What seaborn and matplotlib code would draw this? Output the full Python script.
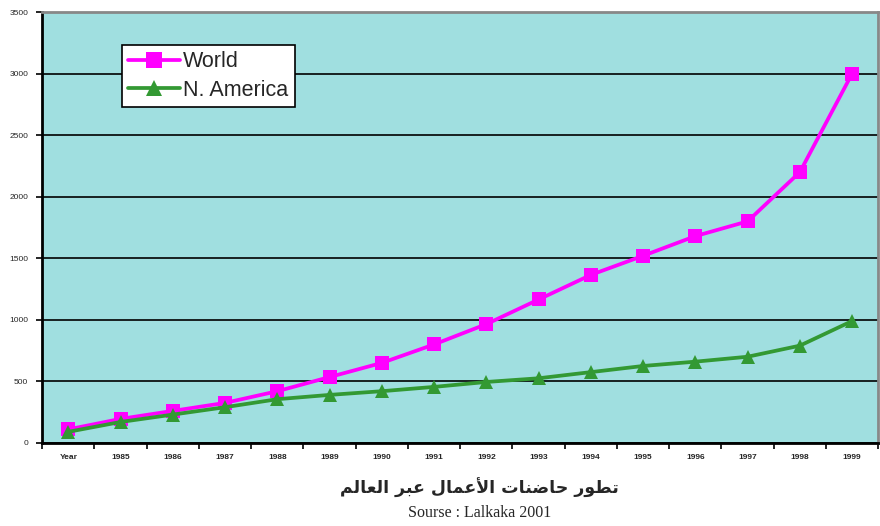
import numpy as np
import pandas as pd
import matplotlib.pyplot as plt
import seaborn as sns

years = ['Year', '1985', '1986', '1987', '1988', '1989', '1990', '1991',
         '1992', '1993', '1994', '1995', '1996', '1997', '1998', '1999']
world = [110, 195, 260, 325, 420, 535, 650, 800, 965, 1165, 1365, 1520, 1680, 1800, 2200, 3000]
n_america = [90, 170, 230, 290, 355, 390, 420, 455, 495, 525, 575, 625, 660, 700, 790, 990]
y_ticks = [0, 500, 1000, 1500, 2000, 2500, 3000, 3500]

# Arabic title in presentation forms (visual order), matplotlib does no shaping
title_words = ['\uFE97\uFEC4\uFEEE\uFEAD',
               '\uFEA3\uFE8E\uFEBF\uFEE8\uFE8E\uFE95',
               '\uFE8D\uFEF7\uFECB\uFEE4\uFE8E\uFEDD',
               '\uFECB\uFE92\uFEAE',
               '\uFE8D\uFEDF\uFECC\uFE8E\uFEDF\uFEE2']
title_ar = ' '.join(title_words)[::-1]
source = 'Sourse : Lalkaka 2001'

df = pd.DataFrame({'pos': np.arange(len(years)), 'World': world, 'N. America': n_america})
df_long = df.melt(id_vars='pos', var_name='Series', value_name='Count')

sns.set_style('white')
plt.rcParams['font.family'] = ['Liberation Sans', 'DejaVu Sans']

fig = plt.figure(figsize=(8.8, 5.26), dpi=100)
ax = fig.add_axes([0.048, 0.158, 0.95, 0.819])
ax.set_facecolor('#a0dfe0')

sns.lineplot(data=df_long, x='pos', y='Count', hue='Series', style='Series',
             palette={'World': '#ff00ff', 'N. America': '#339933'},
             markers={'World': 's', 'N. America': '^'}, dashes=False,
             linewidth=2.7, markersize=10, markeredgewidth=0, ax=ax)

ax.set_xlim(-0.5, len(years) - 0.5)
ax.set_ylim(0, 3500)
ax.set_yticks(y_ticks)
ax.set_yticklabels([str(t) for t in y_ticks], fontsize=6)
ax.yaxis.grid(True, color='black', linewidth=1.2)
ax.set_axisbelow(True)

# boundary ticks, labels in the middle of each category
ax.set_xticks(np.arange(len(years) + 1) - 0.5)
ax.set_xticklabels([])
ax.set_xticks(np.arange(len(years)), minor=True)
ax.set_xticklabels(years, minor=True, fontsize=6, fontweight='bold')
ax.tick_params(axis='x', which='major', direction='out', length=4, width=1.2, color='black', bottom=True)
ax.tick_params(axis='x', which='minor', length=0, pad=8)
ax.tick_params(axis='y', direction='out', length=4, width=1.2, color='black', left=True, pad=6)
ax.set_xlabel('')
ax.set_ylabel('')

for side in ['left', 'bottom']:
    ax.spines[side].set_color('black')
    ax.spines[side].set_linewidth(2)
for side in ['top', 'right']:
    ax.spines[side].set_color('#888888')
    ax.spines[side].set_linewidth(2)

handles, labels = ax.get_legend_handles_labels()
for h in handles:
    h.set_markersize(11)
leg = ax.legend(handles, labels, loc='upper left', bbox_to_anchor=(122 / 880, 1 - 45 / 526),
                bbox_transform=fig.transFigure, prop={'family': 'Liberation Sans', 'size': 15.5},
                frameon=True, fancybox=False, framealpha=1, edgecolor='black',
                borderpad=0.3, handlelength=2.4, handletextpad=0.15, labelspacing=0.35,
                borderaxespad=0)
leg.get_frame().set_linewidth(1.2)

fig.text(0.545, 1 - 488 / 526, title_ar, ha='center', va='center', fontsize=12.5,
         fontweight='bold', family=['DejaVu Sans'])
fig.text(0.545, 1 - 513 / 526, source, ha='center', va='center', fontsize=11.5,
         family=['Liberation Serif'])

fig.savefig('out.png', dpi=100)
